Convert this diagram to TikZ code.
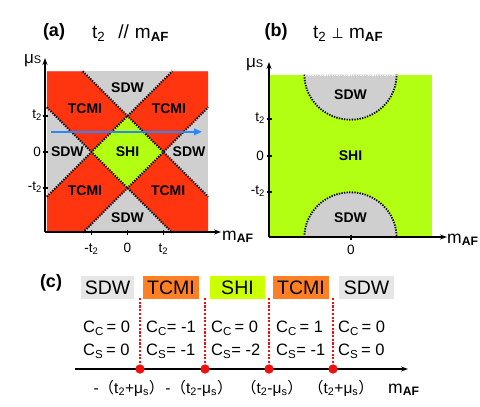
\documentclass[tikz,border=0pt]{standalone}
\usepackage{fontspec}
\setmainfont{Liberation Sans}
\newfontfamily\dejavu{DejaVu Sans}
\newfontfamily\cjk{Noto Sans CJK SC}
\usetikzlibrary{arrows.meta}
\definecolor{tcmired}{HTML}{FF3510}
\definecolor{sdwgray}{HTML}{CFCFCF}
\definecolor{shigreen}{HTML}{B2FF14}
\definecolor{arrowblue}{HTML}{2E86FF}
\definecolor{boxgray}{HTML}{E6E6E6}
\definecolor{boxorange}{HTML}{FF7F24}
\definecolor{boxgreen}{HTML}{CCFF00}
\definecolor{critred}{HTML}{F01010}
\begin{document}
\begin{tikzpicture}[x=1pt,y=-1pt,
  phase/.style={font=\fontsize{14}{14}\selectfont\bfseries, inner sep=0pt},
  boundary/.style={black, line width=1.8pt, dash pattern=on 1.3pt off 1.3pt},
  axisline/.style={black, line width=1.2pt, -{Stealth[length=7pt,width=5pt]}},
  ticklab/.style={font=\fontsize{13.5}{13.5}\selectfont, inner sep=0pt},
  tickmark/.style={black, line width=1.4pt},
  title/.style={font=\fontsize{19}{19}\selectfont, inner sep=0pt},
  plabel/.style={font=\fontsize{18}{18}\selectfont\bfseries, inner sep=0pt},
  mulab/.style={font=\fontsize{17}{17}\selectfont, inner sep=0pt, anchor=base west},
  mlab/.style={font=\fontsize{17.5}{17.5}\selectfont, inner sep=0pt, anchor=base west},
  chbox/.style={font=\fontsize{19.5}{19.5}\selectfont, minimum height=23pt, inner sep=0pt},
  chern/.style={font=\fontsize{16.5}{17}\selectfont, inner sep=0pt, anchor=west},
  crit/.style={font=\fontsize{15.5}{15.5}\selectfont, inner sep=0pt},
  reddash/.style={critred, line width=1.1pt, dash pattern=on 2.2pt off 1.5pt},
  reddot/.style={circle, fill=critred, minimum size=9pt, inner sep=0pt},
]
\useasboundingbox (0,0) rectangle (480,407);

% ---------------- panel (a) ----------------
\begin{scope}[shift={(127.5,152)}, x=36pt, y=36pt]
  \fill[sdwgray] (-2.24,-2.24) rectangle (2.24,2.24);
  \fill[tcmired] (0,1) -- (1.24,2.24) -- (2.24,2.24) -- (2.24,1.24) -- (1,0) -- cycle;
  \fill[tcmired] (0,1) -- (-1.24,2.24) -- (-2.24,2.24) -- (-2.24,1.24) -- (-1,0) -- cycle;
  \fill[tcmired] (0,-1) -- (1.24,-2.24) -- (2.24,-2.24) -- (2.24,-1.24) -- (1,0) -- cycle;
  \fill[tcmired] (0,-1) -- (-1.24,-2.24) -- (-2.24,-2.24) -- (-2.24,-1.24) -- (-1,0) -- cycle;
  \fill[shigreen] (0,1) -- (1,0) -- (0,-1) -- (-1,0) -- cycle;
  \draw[boundary] (-1.24,2.24) -- (2.24,-1.24);
  \draw[boundary] (-2.24,1.24) -- (1.24,-2.24);
  \draw[boundary] (-1.24,-2.24) -- (2.24,1.24);
  \draw[boundary] (-2.24,-1.24) -- (1.24,2.24);
  \node[phase] (aSDWt) at (0,1.8) {SDW};
  \node[phase] (aSDWb) at (0,-1.83) {SDW};
  \node[phase] (aSDWl) at (-1.67,0) {SDW};
  \node[phase] (aSDWr) at (1.71,0) {SDW};
  \node[phase] (aTCMIul) at (-1.18,1.2) {TCMI};
  \node[phase] (aTCMIur) at (1.15,1.2) {TCMI};
  \node[phase] (aTCMIll) at (-1.18,-1.08) {TCMI};
  \node[phase] (aTCMIlr) at (1.13,-1.08) {TCMI};
  \node[phase] (aSHI) at (0,0) {SHI};
  \coordinate (bluestart) at (-2.12,0.56);
  \coordinate (blueend) at (2.07,0.56);
  \draw[arrowblue, line width=2pt, -{Triangle[length=8pt,width=6.5pt]}] (bluestart) -- (blueend);
\end{scope}
\coordinate (aorig) at (45,232);
\coordinate (ayend) at (45,58);
\coordinate (axend) at (221,232);
\draw[axisline] (aorig) -- (ayend);
\draw[axisline] (aorig) -- (axend);
\foreach \yy in {116,152,188} \draw[tickmark] (42.5,\yy) -- (47.5,\yy);
\foreach \xx in {91.5,127.5,163.5} \draw[tickmark] (\xx,229.5) -- (\xx,234.5);
\node[ticklab, anchor=east] (aty1) at (42,115) {t\textsubscript{2}};
\node[ticklab, anchor=east] (aty0) at (41,152) {0};
\node[ticklab, anchor=east] (aty2) at (42,187) {-t\textsubscript{2}};
\node[ticklab] (atx1) at (91.5,249) {-t\textsubscript{2}};
\node[ticklab] (atx0) at (127.5,248) {0};
\node[ticklab] (atx2) at (163.5,249) {t\textsubscript{2}};
\node[mulab] (amu) at (24,63) {μ{\fontsize{11}{11}\selectfont S}};
\node[mlab] (am) at (222,240) {m\textsubscript{\bfseries AF}};
\node[plabel] (lblA) at (54,32) {(a)};
\node[title, anchor=base west] (titleA) at (92,38) {t\textsubscript{2}\hspace{13pt}//\hspace{6pt}m\textsubscript{\bfseries AF}};

% ---------------- panel (b) ----------------
\begin{scope}[shift={(350.5,156)}, x=36.3pt, y=36.3pt]
  \fill[shigreen] (-2.24,-2.24) rectangle (2.24,2.24);
  \fill[sdwgray] (-1.27,2.24) arc[start angle=180, end angle=360, x radius=1.27, y radius=1.24] -- cycle;
  \fill[sdwgray] (-1.27,-2.24) arc[start angle=180, end angle=0, x radius=1.27, y radius=1.24] -- cycle;
  \draw[boundary] (-1.27,2.24) arc[start angle=180, end angle=360, x radius=1.27, y radius=1.24];
  \draw[boundary] (-1.27,-2.24) arc[start angle=180, end angle=0, x radius=1.27, y radius=1.24];
  \draw[white, line width=1pt, dash pattern=on 1.2pt off 1.2pt] (-1.25,2.22) -- (1.25,2.22);
  \node[phase] (bSDWt) at (0,1.68) {SDW};
  \node[phase] (bSDWb) at (0,-1.71) {SDW};
  \node[phase] (bSHI) at (0,0) {SHI};
\end{scope}
\coordinate (borig) at (269,237);
\coordinate (byend) at (269,62);
\coordinate (bxend) at (447,237);
\draw[axisline] (borig) -- (byend);
\draw[axisline] (borig) -- (bxend);
\foreach \yy in {119,156,192} \draw[tickmark] (266.5,\yy) -- (271.5,\yy);
\draw[tickmark] (351,234.5) -- (351,239.5);
\node[ticklab, anchor=east] (bty1) at (265,118) {t\textsubscript{2}};
\node[ticklab, anchor=east] (bty0) at (264,156) {0};
\node[ticklab, anchor=east] (bty2) at (265,191) {-t\textsubscript{2}};
\node[ticklab] (btx0) at (351,250) {0};
\node[mulab] (bmu) at (246,67) {μ{\fontsize{11}{11}\selectfont S}};
\node[mlab] (bm) at (447,243) {m\textsubscript{\bfseries AF}};
\node[plabel] (lblB) at (276,32) {(b)};
\node[title, anchor=base west] (titleB) at (313,38) {t\textsubscript{2} {\dejavu\fontsize{14}{14}\selectfont ⊥} m\textsubscript{\bfseries AF}};

% ---------------- panel (c) ----------------
\node[plabel] (lblC) at (51,283) {(c)};
\node[chbox, fill=boxgray, minimum width=53pt] (cSDW1) at (107.5,287.5) {SDW};
\node[chbox, fill=boxorange, minimum width=56pt] (cTCMI1) at (171,287.5) {TCMI};
\node[chbox, fill=boxgreen, minimum width=55pt] (cSHI) at (237.5,287.5) {SHI};
\node[chbox, fill=boxorange, minimum width=56pt] (cTCMI2) at (301,287.5) {TCMI};
\node[chbox, fill=boxgray, minimum width=55pt] (cSDW2) at (366.5,287.5) {SDW};

\coordinate (cstart) at (75,369);
\coordinate (cend) at (408,369);
\draw[axisline, line width=1.3pt] (cstart) -- (cend);
\foreach \i/\xx in {1/140,2/205,3/269,4/333} {
  \coordinate (ctop\i) at (\xx,298);
  \node[reddot] (cdot\i) at (\xx,369) {};
  \draw[reddash] (ctop\i) -- (cdot\i.center);
  \node[reddot] at (cdot\i) {};
}
\node[chern] (cc1) at (83,328) {C\textsubscript{C}\,= 0};
\node[chern] (cs1) at (83,351) {C\textsubscript{S}\,= 0};
\node[chern] (cc2) at (146,328) {C\textsubscript{C}= -1};
\node[chern] (cs2) at (146,351) {C\textsubscript{S}= -1};
\node[chern] (cc3) at (211,328) {C\textsubscript{C}\,= 0};
\node[chern] (cs3) at (211,351) {C\textsubscript{S}= -2};
\node[chern] (cc4) at (276,328) {C\textsubscript{C}\,= 1};
\node[chern] (cs4) at (276,351) {C\textsubscript{S}= -1};
\node[chern] (cc5) at (338,328) {C\textsubscript{C}\,= 0};
\node[chern] (cs5) at (338,351) {C\textsubscript{S}\,= 0};

\node[crit] (k1) at (129,388) {-{\cjk （}t\textsubscript{2}+μ\textsubscript{s}{\cjk ）}};
\node[crit] (k2) at (199,388) {-{\cjk （}t\textsubscript{2}-μ\textsubscript{s}{\cjk ）}};
\node[crit] (k3) at (272,388) {{\cjk （}t\textsubscript{2}-μ\textsubscript{s}{\cjk ）}};
\node[crit] (k4) at (341,388) {{\cjk （}t\textsubscript{2}+μ\textsubscript{s}{\cjk ）}};
\node[mlab] (cm) at (388,393) {m\textsubscript{\bfseries AF}};
\end{tikzpicture}
\end{document}
